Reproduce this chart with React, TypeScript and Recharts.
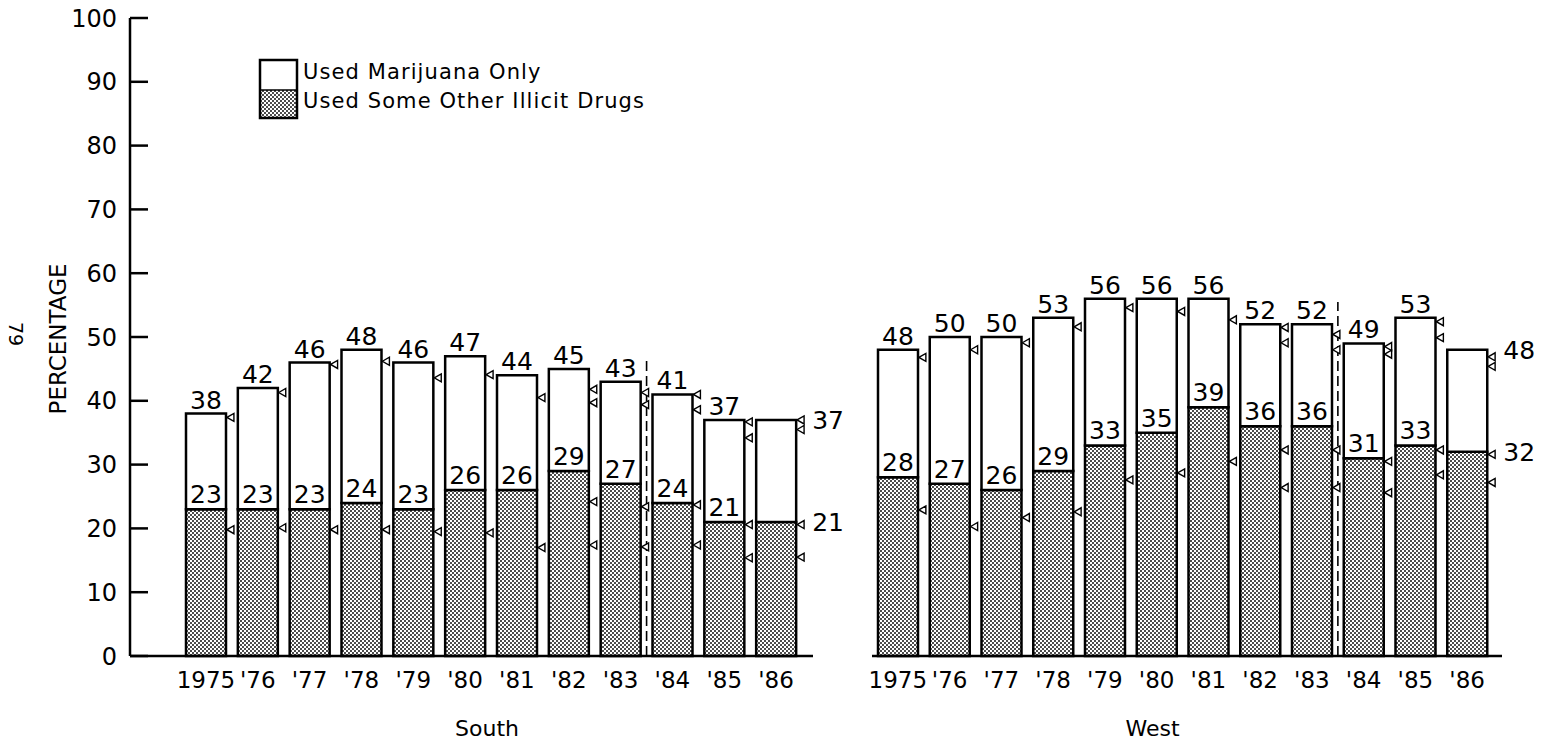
import React from 'react';
import { ComposedChart, Bar, Line, XAxis, YAxis, LabelList, ReferenceLine, Legend } from 'recharts';

const years = ['1975', "'76", "'77", "'78", "'79", "'80", "'81", "'82", "'83", "'84", "'85", "'86"];

const southTotal = [38, 42, 46, 48, 46, 47, 44, 45, 43, 41, 37, 37];
const southOther = [23, 23, 23, 24, 23, 26, 26, 29, 27, 24, 21, 21];
const westTotal = [48, 50, 50, 53, 56, 56, 56, 52, 52, 49, 53, 48];
const westOther = [28, 27, 26, 29, 33, 35, 39, 36, 36, 31, 33, 32];

// small triangle markers drawn at the right of each bar
const southMarkA = [37.4, 41.3, 45.7, 46.2, 43.6, 44.1, 40.5, 41.8, 41.3, 41.0, 36.7, 37.0];
const southMarkB = [null, null, null, null, null, null, null, 39.7, 39.4, 38.6, 34.2, 35.5];
const southMarkC = [19.8, 20.1, 19.8, 19.8, 19.5, 19.3, 17.0, 24.2, 23.4, 23.7, 20.6, 20.6];
const southMarkD = [null, null, null, null, null, null, null, 17.4, 17.1, 17.4, 15.4, 15.5];

const westMarkA = [46.8, 48.0, 49.1, 51.6, 54.6, 54.0, 52.7, 51.5, 50.4, 48.5, 52.4, 46.9];
const westMarkB = [null, null, null, null, null, null, null, 49.1, 48.0, 47.3, 49.9, 45.4];
const westMarkC = [22.9, 20.3, 21.7, 22.6, 27.6, 28.7, 30.5, 32.3, 32.3, 30.5, 32.3, 31.6];
const westMarkD = [null, null, null, null, null, null, null, 26.4, 26.4, 25.6, 28.4, 27.2];

const yTicks = [0, 10, 20, 30, 40, 50, 60, 70, 80, 90, 100];
const breakYear = "'83";
const southDashTop = 47;
const westDashTop = 55.5;

const seriesNames = ['Used Marijuana Only', 'Used Some Other Illicit Drugs'];

const FONT = '"DejaVu Sans", Verdana, sans-serif';
const LAST = years.length - 1;

function buildRows(total: number[], other: number[], a: any[], b: any[], c: any[], d: any[]) {
  return years.map((year, i) => ({
    year,
    total: total[i],
    other: other[i],
    mj: total[i] - other[i],
    mA: a[i],
    mB: b[i],
    mC: c[i],
    mD: d[i],
  }));
}

const southRows = buildRows(southTotal, southOther, southMarkA, southMarkB, southMarkC, southMarkD);
const westRows = buildRows(westTotal, westOther, westMarkA, westMarkB, westMarkC, westMarkD);

function box(p: any) {
  const vb = p.viewBox || {};
  return {
    x: p.x != null ? Number(p.x) : vb.x,
    y: p.y != null ? Number(p.y) : vb.y,
    width: p.width != null ? Number(p.width) : vb.width,
    height: p.height != null ? Number(p.height) : vb.height,
  };
}

const LABEL_SIZE = 25;

const totalLabel = (p: any) => {
  const { x, y, width } = box(p);
  if (p.index === LAST) {
    return (
      <text x={x + width + 16} y={y} dy="0.36em" textAnchor="start" fontSize={LABEL_SIZE} fill="#000" fontFamily={FONT}>
        {p.value}
      </text>
    );
  }
  return (
    <text x={x + width / 2} y={y - 5} textAnchor="middle" fontSize={LABEL_SIZE} fill="#000" fontFamily={FONT}>
      {p.value}
    </text>
  );
};

const otherLabel = (p: any) => {
  const { x, y, width, height } = box(p);
  const base = y + height;
  if (p.index === LAST) {
    return (
      <text x={x + width + 16} y={base} dy="0.36em" textAnchor="start" fontSize={LABEL_SIZE} fill="#000" fontFamily={FONT}>
        {p.value}
      </text>
    );
  }
  return (
    <text x={x + width / 2} y={base - 6} textAnchor="middle" fontSize={LABEL_SIZE} fill="#000" fontFamily={FONT}>
      {p.value}
    </text>
  );
};

const Tri = (props: any) => {
  const { cx, cy } = props;
  if (cx == null || cy == null || !isFinite(cx) || !isFinite(cy)) return <g key={props.key} />;
  const x0 = cx + 21;
  return (
    <path
      key={props.key}
      d={`M${x0},${cy} L${x0 + 7},${cy - 4} L${x0 + 7},${cy + 4} Z`}
      fill="#fff"
      stroke="#000"
      strokeWidth={1.4}
    />
  );
};

const renderLegend = () => (
  <svg width={440} height={64} style={{ display: 'block' }}>
    <rect x={2} y={2} width={37} height={30} fill="#fff" />
    <rect x={2} y={32} width={37} height={28} fill="url(#dots)" />
    <line x1={2} y1={32} x2={39} y2={32} stroke="#000" strokeWidth={1.5} />
    <rect x={2} y={2} width={37} height={58} fill="none" stroke="#000" strokeWidth={2.5} />
    <text x={45} y={21} fontSize={21} letterSpacing={1.1} fill="#000" fontFamily={FONT}>{seriesNames[0]}</text>
    <text x={45} y={50} fontSize={21} letterSpacing={1.1} fill="#000" fontFamily={FONT}>{seriesNames[1]}</text>
  </svg>
);

type PanelProps = {
  rows: any[];
  name: string;
  showY: boolean;
  left: number;
  width: number;
  marginLeft: number;
  marginRight: number;
  padLeft: number;
  padRight: number;
  dashTop: number;
  nameShift: number;
  legend?: boolean;
};

function Panel(props: PanelProps) {
  const { rows, name, showY, left, width, marginLeft, marginRight, padLeft, padRight, dashTop, nameShift, legend } = props;
  const nameContent = (p: any) => {
    const vb = p.viewBox;
    const cx = vb.x + padLeft + (vb.width - padLeft - padRight) / 2 + nameShift;
    return (
      <text x={cx} y={vb.y + 80} textAnchor="middle" fontSize={22} fill="#000" fontFamily={FONT}>
        {name}
      </text>
    );
  };
  const yLabelContent = (p: any) => {
    const vb = p.viewBox;
    const cy = vb.y + vb.height / 2;
    const cx = vb.x + 48;
    return (
      <g>
        <text
          x={cx}
          y={cy + 2}
          transform={`rotate(-90, ${cx}, ${cy + 2})`}
          textAnchor="middle"
          dy="0.36em"
          fontSize={23}
          fill="#000"
          fontFamily={FONT}
        >
          PERCENTAGE
        </text>
        <text
          x={vb.x + 6}
          y={cy - 3}
          transform={`rotate(90, ${vb.x + 6}, ${cy - 3})`}
          textAnchor="middle"
          dy="0.36em"
          fontSize={19}
          fill="#000"
          fontFamily={FONT}
        >
          79
        </text>
      </g>
    );
  };
  return (
    <div style={{ position: 'absolute', left, top: 0 }}>
      <ComposedChart
        width={width}
        height={743}
        data={rows}
        margin={{ top: 18, right: marginRight, bottom: 0, left: marginLeft }}
        barSize={40}
        barGap={0}
      >
        <XAxis
          dataKey="year"
          height={87}
          padding={{ left: padLeft, right: padRight }}
          axisLine={{ stroke: '#000', strokeWidth: 2.5 }}
          tickLine={false}
          tickSize={0}
          tickMargin={16}
          interval={0}
          tick={{ fill: '#000', fontSize: 23, fontFamily: FONT }}
          label={{ content: nameContent }}
        />
        <YAxis
          hide={!showY}
          type="number"
          domain={[0, 100]}
          ticks={yTicks}
          width={120}
          interval={0}
          axisLine={{ stroke: '#000', strokeWidth: 2.5 }}
          tickLine={{ stroke: '#000', strokeWidth: 2.5 }}
          tickSize={-18}
          tickMargin={31}
          tick={{ fill: '#000', fontSize: 24, fontFamily: FONT }}
          label={showY ? { content: yLabelContent } : undefined}
        />
        {legend ? (
          <Legend
            layout="vertical"
            verticalAlign="middle"
            align="center"
            content={renderLegend}
            wrapperStyle={{ top: 58, left: 258, width: 440, height: 64, margin: 0 }}
          />
        ) : null}
        <Bar
          dataKey="other"
          name={seriesNames[1]}
          stackId="s"
          fill="url(#dots)"
          stroke="#000"
          strokeWidth={2.5}
          isAnimationActive={false}
        />
        <Bar
          dataKey="mj"
          name={seriesNames[0]}
          stackId="s"
          fill="#fff"
          stroke="#000"
          strokeWidth={2.5}
          isAnimationActive={false}
        >
          <LabelList dataKey="total" content={totalLabel} />
          <LabelList dataKey="other" content={otherLabel} />
        </Bar>
        <ReferenceLine
          segment={[
            { x: breakYear, y: 0 },
            { x: breakYear, y: dashTop },
          ]}
          stroke="#000"
          ifOverflow="visible"
          shape={(p: any) => (
            <line
              x1={p.x1 + 26}
              y1={p.y1}
              x2={p.x2 + 26}
              y2={p.y2}
              stroke="#000"
              strokeWidth={1.6}
              strokeDasharray="10 5"
            />
          )}
        />
        {['mA', 'mB', 'mC', 'mD'].map((k) => (
          <Line
            key={k}
            dataKey={k}
            stroke="none"
            dot={Tri}
            activeDot={false}
            connectNulls={false}
            isAnimationActive={false}
            legendType="none"
          />
        ))}
      </ComposedChart>
    </div>
  );
}

export default function App() {
  return (
    <div style={{ position: 'absolute', left: 0, top: 0, width: 1550, height: 743, background: '#fff', fontFamily: FONT }}>
      <svg width={0} height={0} style={{ position: 'absolute' }}>
        <defs>
          <pattern id="dots" width={4} height={4} patternUnits="userSpaceOnUse">
            <rect width={4} height={4} fill="#fff" />
            <circle cx={1} cy={1} r={0.95} fill="#000" />
            <circle cx={3} cy={3} r={0.95} fill="#000" />
          </pattern>
        </defs>
      </svg>
      <Panel
        rows={southRows}
        name="South"
        showY
        left={0}
        width={860}
        marginLeft={10}
        marginRight={47}
        padLeft={50}
        padRight={11}
        dashTop={southDashTop}
        nameShift={-4}
        legend
      />
      <Panel
        rows={westRows}
        name="West"
        showY={false}
        left={830}
        width={720}
        marginLeft={42}
        marginRight={48}
        padLeft={0}
        padRight={9}
        dashTop={westDashTop}
        nameShift={-30}
      />
    </div>
  );
}
